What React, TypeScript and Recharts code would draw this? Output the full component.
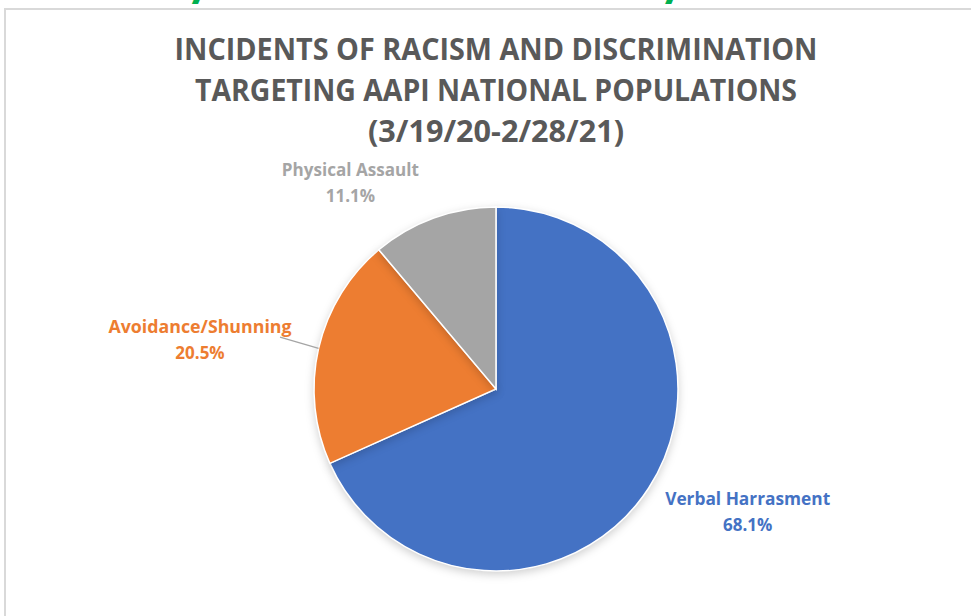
import React from 'react';
import { PieChart, Pie, Cell } from 'recharts';

// incident types, share of reports (%)
const categories = ['Verbal Harrasment', 'Avoidance/Shunning', 'Physical Assault'];
const shares = [68.1, 20.5, 11.1];
const colors = ['#4472C4', '#ED7D31', '#A5A5A5'];

const titleLines = [
    'INCIDENTS OF RACISM AND DISCRIMINATION',
    'TARGETING AAPI NATIONAL POPULATIONS',
    '(3/19/20-2/28/21)',
];

const data = categories.map((name, i) => ({ name, value: shares[i] }));

const RADIAN = Math.PI / 180;

// where each label sits, as polar offset from the pie centre (Excel "best fit" look)
const labelSpots: Record<string, { angle: number; r: number; w: number; leader?: boolean }> = {
    'Verbal Harrasment': { angle: -26.0, r: 280, w: 165 },
    'Avoidance/Shunning': { angle: 170.6, r: 300, w: 183, leader: true },
    'Physical Assault': { angle: 125.3, r: 252, w: 137 },
};

// eslint-disable-next-line @typescript-eslint/no-explicit-any
const renderLabel = (props: any) => {
    const { cx, cy, midAngle, outerRadius, name, value, index } = props;
    const spot = labelSpots[name];
    const x = cx + Math.cos(-spot.angle * RADIAN) * spot.r;
    const y = cy + Math.sin(-spot.angle * RADIAN) * spot.r;
    const ex = cx + Math.cos(-midAngle * RADIAN) * outerRadius;
    const ey = cy + Math.sin(-midAngle * RADIAN) * outerRadius;
    const fill = colors[index];
    return (
        <g key={name}>
            {spot.leader && (
                <line x1={ex} y1={ey} x2={x + 80} y2={y - 3} stroke="#A5A5A5" strokeWidth={1.3} />
            )}
            <text
                x={x}
                y={y - 7}
                textAnchor="middle"
                fill={fill}
                fontFamily="'Open Sans', sans-serif"
                fontWeight={700}
                fontSize={17}
                textLength={spot.w}
                lengthAdjust="spacingAndGlyphs"
            >
                {name}
            </text>
            <text
                x={x}
                y={y + 19}
                textAnchor="middle"
                fill={fill}
                fontFamily="'Open Sans', sans-serif"
                fontWeight={700}
                fontSize={17}
            >
                {value.toFixed(1)}%
            </text>
        </g>
    );
};

export default function App() {
    return (
        <div style={{ position: 'absolute', left: 0, top: 0, width: 971, height: 616, overflow: 'hidden', background: '#fff' }}>
            {/* slide frame */}
            <div style={{ position: 'absolute', left: 4, top: 8, width: 980, height: 620, borderTop: '2px solid #D9D9D9', borderLeft: '2px solid #D9D9D9' }} />
            <svg width={971} height={616} style={{ position: 'absolute', left: 0, top: 0 }}>
                {/* slide heading, mostly cut off at the top */}
                <text x={130} y={-1} textLength={620} lengthAdjust="spacingAndGlyphs" fill="#00B050" fontFamily="'Open Sans', sans-serif" fontWeight={700} fontStyle="italic" fontSize={22}>
                    Stop AAPI Hate National Report
                </text>
                {titleLines.map((t, i) => (
                    <text
                        key={t}
                        x={496}
                        y={60 + i * 41}
                        textAnchor="middle"
                        textLength={[643, 602, 256][i]}
                        lengthAdjust="spacingAndGlyphs"
                        fill="#595959"
                        fontFamily="'Open Sans', sans-serif"
                        fontWeight={700}
                        fontSize={30}
                    >
                        {t}
                    </text>
                ))}
            </svg>
            <div style={{ position: 'absolute', left: 0, top: 0 }}>
                <PieChart width={971} height={616} margin={{ top: 0, right: 0, bottom: 0, left: 0 }}>
                    <Pie
                        data={data}
                        dataKey="value"
                        nameKey="name"
                        cx={496}
                        cy={389}
                        outerRadius={182}
                        startAngle={90}
                        endAngle={-270}
                        stroke="#fff"
                        strokeWidth={1.5}
                        label={renderLabel}
                        labelLine={false}
                        isAnimationActive={false}
                    >
                        {data.map((d, i) => (
                            <Cell key={d.name} fill={colors[i]} style={{ filter: 'drop-shadow(0 3px 4px rgba(0,0,0,0.18))' }} />
                        ))}
                    </Pie>
                </PieChart>
            </div>
        </div>
    );
}
